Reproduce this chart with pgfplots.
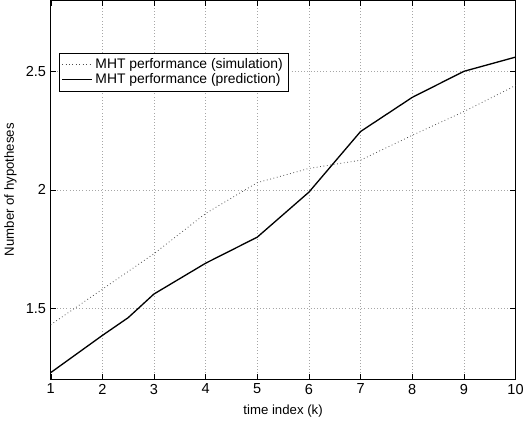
\documentclass[border=0pt]{standalone}
\usepackage{pgfplots}
\pgfplotsset{compat=1.18}
\usepackage{fontspec}
\setmainfont{Liberation Sans}
\begin{document}
\begin{tikzpicture}
\begin{axis}[
  width=352pt, height=287pt,
  scale only axis,
  xmin=1, xmax=10, ymin=1.2, ymax=2.8,
  xtick={1,2,...,10},
  ytick={1.5,2,2.5},
  yticklabels={1.5,2,2.5},
  /pgf/number format/assume math mode=true,
  tick label style={font=\fontsize{11}{13}\selectfont},
  label style={font=\fontsize{10}{12}\selectfont},
  xlabel={time index (k)},
  ylabel={Number of hypotheses},
  xlabel style={yshift=-1pt},
  ylabel style={yshift=0pt},
  grid=major,
  major grid style={dotted, gray!70},
  tick style={black},
  legend style={at={(0.017,0.86)}, anchor=north west, draw=black,
    font=\fontsize{10.5}{12}\selectfont, row sep=-2pt, inner sep=2pt},
  legend cell align=left,
  legend image code/.code={\draw[#1] (0cm,0cm) -- (0.8cm,0cm);},
]
\addplot[black!70, dotted, line width=0.6pt] coordinates {
  (1,1.43)(2,1.58)(3,1.73)(4,1.90)(5,2.03)(6,2.09)(7,2.125)(8,2.23)(9,2.33)(10,2.44)
};
\addlegendentry{MHT performance (simulation)}
\addplot[black, line width=1pt] coordinates {
  (1,1.228)(2,1.385)(2.5,1.46)(3,1.56)(4,1.69)(5,1.80)(6,1.99)(7,2.246)(8,2.39)(9,2.50)(10,2.56)
};
\addlegendentry{MHT performance (prediction)}
\end{axis}
\end{tikzpicture}
\end{document}
